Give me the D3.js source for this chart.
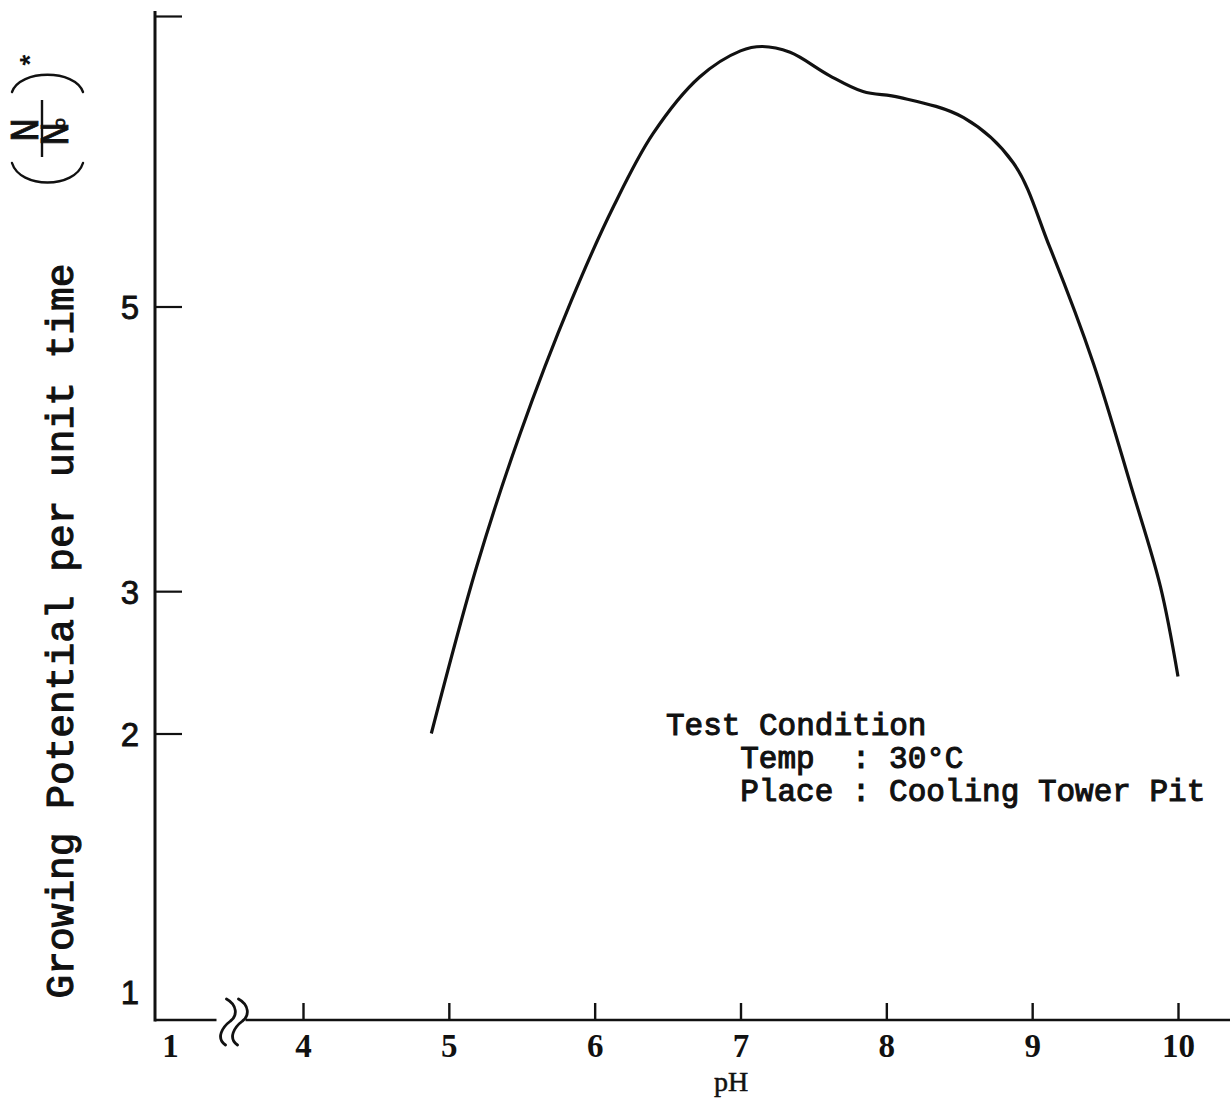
<!DOCTYPE html>
<html>
<head>
<meta charset="utf-8">
<script src="https://cdn.jsdelivr.net/npm/d3@7"></script>
<style>
  body { margin: 0; background: #fff; }
  svg { display: block; }
</style>
</head>
<body>
<svg id="chart" width="1230" height="1110"></svg>
<script>
// pH of the test water and the measured growing potential N/N0 per unit time
const ph = [4.88, 5.19, 5.49, 5.84, 6.13, 6.40, 6.72, 7.00, 7.15, 7.34,
            7.61, 7.84, 8.09, 8.53, 8.87, 9.12, 9.42, 9.68, 9.88, 10.0];
const growth = [2.00, 3.17, 4.11, 5.04, 5.69, 6.19, 6.58, 6.76, 6.79, 6.75,
                6.59, 6.48, 6.44, 6.30, 5.99, 5.41, 4.60, 3.73, 3.03, 2.40];

// axis ticks (x axis is broken between 1 and 4, y axis between 1 and 2)
const phTicks = [1, 4, 5, 6, 7, 8, 9, 10];
const gpTicks = [1, 2, 3, 5, 7];
const gpTickLabels = ["1", "2", "3", "5", ""];

const yTitle = "Growing Potential per unit time";
const xTitle = "pH";
const noteLines = ["Test Condition", "Temp  : 30°C", "Place : Cooling Tower Pit"];
const noteIndent = [0, 4, 4];

const svg = d3.select("#chart");
const ink = "#111";
const mono = "'Liberation Mono', 'Courier New', monospace";

// piecewise scales reproduce the broken axes
const x = d3.scaleLinear().domain([1, 4, 10]).range([170, 303, 1178]);
const y = d3.scaleLinear().domain([1, 2, 5, 7]).range([1020, 733.5, 306.5, 16]);

const originX = 155, originY = y(1);

// ---- axis lines ----
const breakX = (x(1) + x(4)) / 2;
svg.append("line")
  .attr("x1", originX).attr("x2", originX)
  .attr("y1", 11).attr("y2", originY + 1.5)
  .attr("stroke", ink).attr("stroke-width", 3);
svg.append("line")
  .attr("x1", originX).attr("x2", breakX - 20)
  .attr("y1", originY).attr("y2", originY)
  .attr("stroke", ink).attr("stroke-width", 2.6);
svg.append("line")
  .attr("x1", breakX + 9).attr("x2", 1230)
  .attr("y1", originY).attr("y2", originY)
  .attr("stroke", ink).attr("stroke-width", 2.6);

// break marks on the x axis
[breakX - 10, breakX + 2].forEach(bx => {
  const p = d3.path();
  p.moveTo(bx, originY - 21);
  p.bezierCurveTo(bx + 11, originY - 15, bx + 11, originY - 4, bx + 4, originY + 1);
  p.bezierCurveTo(bx - 4, originY + 7, bx - 11, originY + 18, bx - 1, originY + 25);
  svg.append("path").attr("d", p.toString())
    .attr("fill", "none").attr("stroke", ink).attr("stroke-width", 2.8)
    .attr("stroke-linecap", "round");
});

// ---- x axis ticks and labels ----
const gx = svg.append("g")
  .attr("transform", `translate(0,${originY})`)
  .call(d3.axisBottom(x).tickValues(phTicks).tickSizeInner(-17).tickSizeOuter(0)
        .tickFormat(d3.format("d")));
gx.select(".domain").remove();
gx.selectAll(".tick line")
  .attr("stroke", ink).attr("stroke-width", 2.4)
  .filter(d => d === 1).remove();
gx.selectAll(".tick text")
  .attr("y", 37).attr("dy", 0)
  .attr("fill", ink)
  .style("font-family", "'Liberation Serif', serif")
  .style("font-weight", "bold")
  .style("font-size", "33px");

// ---- y axis ticks and labels ----
const gy = svg.append("g")
  .attr("transform", `translate(${originX},0)`)
  .call(d3.axisLeft(y).tickValues(gpTicks).tickSizeInner(-27).tickSizeOuter(0)
        .tickFormat((d, i) => gpTickLabels[i]));
gy.select(".domain").remove();
gy.selectAll(".tick line")
  .attr("stroke", ink).attr("stroke-width", 2.2)
  .filter(d => d === 1).remove();
gy.selectAll(".tick text")
  .attr("x", -16)
  .attr("dy", d => d === 1 ? "-0.5em" : "0.36em")
  .attr("text-anchor", "end")
  .attr("fill", ink)
  .attr("stroke", ink).attr("stroke-width", 0.8)
  .style("font-family", "'Liberation Sans', sans-serif")
  .style("font-size", "33px");

// ---- curve ----
const pts = ph.map((p, i) => [p, growth[i]]);
svg.append("path")
  .datum(pts)
  .attr("d", d3.line().x(d => x(d[0])).y(d => y(d[1])).curve(d3.curveCatmullRom.alpha(0.5)))
  .attr("fill", "none")
  .attr("stroke", ink)
  .attr("stroke-width", 3.2)
  .attr("stroke-linejoin", "round");

// ---- axis titles ----
svg.append("text")
  .attr("transform", "translate(73,631) rotate(-90)")
  .attr("text-anchor", "middle")
  .attr("fill", ink)
  .attr("stroke", ink).attr("stroke-width", 1.1)
  .style("font-family", mono)
  .style("font-size", "39.5px")
  .text(yTitle);

// unit (N / N0)* written sideways above the title
const unit = svg.append("g").attr("transform", "translate(42,129) rotate(-90)");
unit.append("line")
  .attr("x1", -28).attr("x2", 29).attr("y1", 0).attr("y2", 0)
  .attr("stroke", ink).attr("stroke-width", 2.4);
unit.append("text")
  .attr("x", -1).attr("y", -4)
  .attr("text-anchor", "middle")
  .attr("fill", ink)
  .attr("stroke", ink).attr("stroke-width", 0.8)
  .style("font-family", mono)
  .style("font-size", "40px")
  .text("N");
const den = unit.append("text")
  .attr("x", -3).attr("y", 26)
  .attr("text-anchor", "middle")
  .attr("fill", ink)
  .attr("stroke", ink).attr("stroke-width", 0.8)
  .style("font-family", mono)
  .style("font-size", "40px");
den.append("tspan").text("N");
den.append("tspan").attr("dx", -6).attr("dy", -3).style("font-size", "17px").text("o");
[[37, 60], [-34, -60]].forEach(([base, ctrl]) => {
  const p = d3.path();
  p.moveTo(base, -30);
  p.bezierCurveTo(ctrl, -22, ctrl, 33, base, 41);
  unit.append("path").attr("d", p.toString())
    .attr("fill", "none").attr("stroke", ink).attr("stroke-width", 2.4)
    .attr("stroke-linecap", "round");
});
unit.append("text")
  .attr("x", 69).attr("y", -2)
  .attr("text-anchor", "middle")
  .attr("fill", ink)
  .style("font-family", mono)
  .style("font-weight", "bold")
  .style("font-size", "28px")
  .text("*");

svg.append("text")
  .attr("x", 731).attr("y", 1091)
  .attr("text-anchor", "middle")
  .attr("fill", ink)
  .attr("stroke", ink).attr("stroke-width", 0.5)
  .style("font-family", "'Liberation Serif', serif")
  .style("font-size", "28px")
  .text(xTitle);

// ---- test-condition note ----
const charW = 18.56;
svg.append("g").selectAll("text")
  .data(noteLines)
  .join("text")
  .attr("x", (d, i) => 666 + noteIndent[i] * charW)
  .attr("y", (d, i) => 735 + i * 33)
  .attr("fill", ink)
  .attr("stroke", ink).attr("stroke-width", 1.1)
  .attr("xml:space", "preserve")
  .style("white-space", "pre")
  .style("font-family", mono)
  .style("font-size", "31px")
  .text(d => d);
</script>
</body>
</html>
